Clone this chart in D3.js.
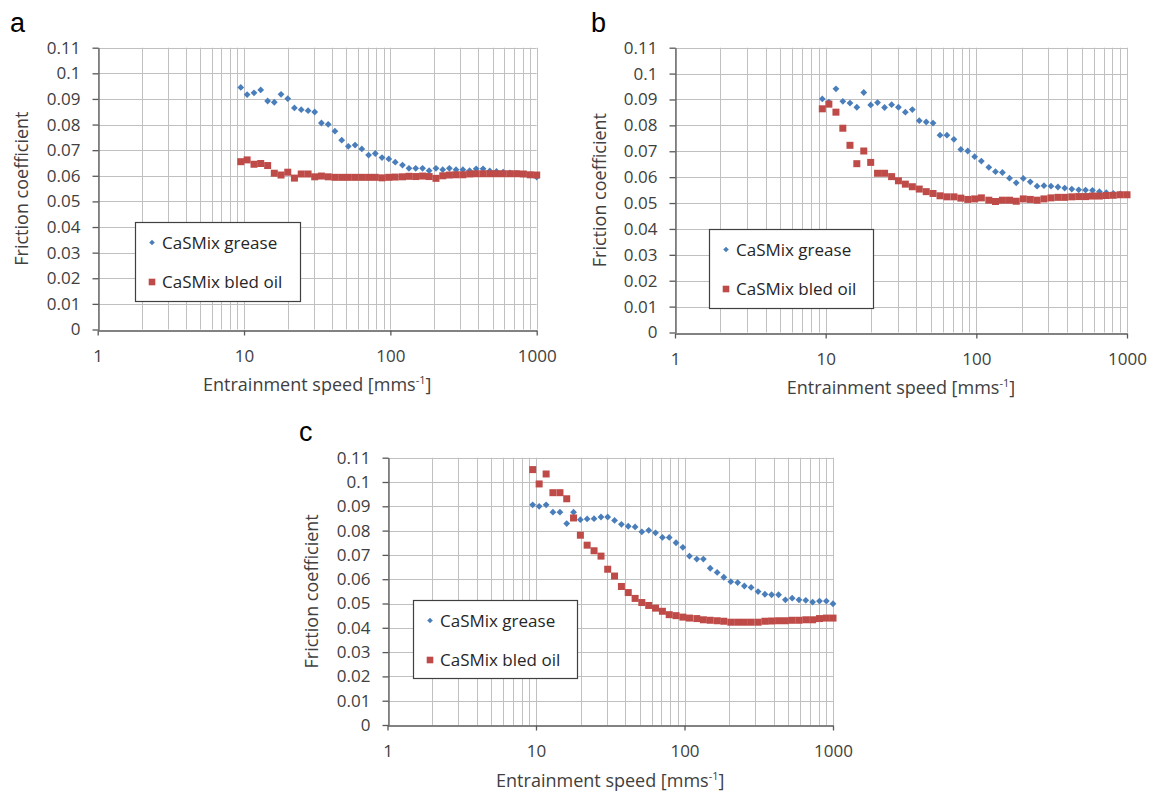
<!DOCTYPE html>
<html><head><meta charset="utf-8">
<script src="https://cdn.jsdelivr.net/npm/d3@7"></script>
<style>body{margin:0;background:#fff} svg{display:block}</style>
</head><body>
<svg id="chart" width="1153" height="795"></svg>
<script>
// ---------- data ----------
const speeds = [9.5, 10.5, 11.7, 13.0, 14.5, 16.1, 17.9, 19.9, 22.1, 24.6, 27.4, 30.4, 33.8, 37.6, 41.8,
  46.5, 51.6, 57.4, 63.8, 71.0, 78.9, 87.7, 97.5, 108, 121, 134, 149, 166, 184, 205, 228, 253, 281,
  313, 348, 386, 430, 478, 531, 590, 656, 729, 811, 902, 1000];

const greaseA = [0.0945,0.0917,0.0924,0.0935,0.0892,0.0887,0.0918,0.0901,0.0865,0.0858,0.0854,0.0849,0.0806,0.0801,0.0774,
  0.0739,0.0715,0.0720,0.0705,0.0681,0.0687,0.0671,0.0666,0.0653,0.0642,0.0629,0.0629,0.0629,0.0620,0.0629,0.0624,0.0629,
  0.0624,0.0624,0.0620,0.0627,0.0627,0.0619,0.0617,0.0614,0.0611,0.0609,0.0606,0.0603,0.0595];
const oilA = [0.0655,0.0662,0.0645,0.0648,0.0640,0.0610,0.0603,0.0614,0.0591,0.0607,0.0607,0.0596,0.0599,0.0596,0.0594,
  0.0594,0.0594,0.0594,0.0594,0.0594,0.0594,0.0592,0.0594,0.0595,0.0596,0.0598,0.0597,0.0599,0.0597,0.0590,0.0600,0.0603,
  0.0604,0.0604,0.0607,0.0608,0.0608,0.0608,0.0608,0.0608,0.0608,0.0608,0.0607,0.0604,0.0603];

const greaseB = [0.0902,0.0890,0.0941,0.0893,0.0886,0.0870,0.0927,0.0879,0.0888,0.0869,0.0880,0.0870,0.0851,0.0861,0.0818,
  0.0813,0.0809,0.0762,0.0762,0.0746,0.0707,0.0701,0.0679,0.0662,0.0638,0.0621,0.0618,0.0596,0.0578,0.0595,0.0582,0.0565,
  0.0567,0.0565,0.0562,0.0558,0.0554,0.0551,0.0550,0.0549,0.0544,0.0540,0.0537,0.0535,0.0532];
const oilB = [0.0864,0.0882,0.0851,0.0789,0.0723,0.0652,0.0701,0.0657,0.0615,0.0615,0.0602,0.0586,0.0573,0.0563,0.0554,
  0.0544,0.0537,0.0528,0.0524,0.0524,0.0519,0.0514,0.0516,0.0520,0.0511,0.0506,0.0511,0.0511,0.0507,0.0516,0.0514,0.0511,
  0.0516,0.0520,0.0522,0.0522,0.0524,0.0525,0.0525,0.0527,0.0527,0.0529,0.0530,0.0532,0.0532];

const greaseC = [0.0906,0.0900,0.0906,0.0876,0.0876,0.0829,0.0876,0.0845,0.0848,0.0849,0.0856,0.0856,0.0842,0.0826,0.0818,
  0.0815,0.0795,0.0801,0.0791,0.0772,0.0772,0.0750,0.0731,0.0695,0.0683,0.0683,0.0645,0.0628,0.0608,0.0590,0.0586,0.0572,
  0.0566,0.0549,0.0538,0.0536,0.0536,0.0515,0.0522,0.0515,0.0513,0.0506,0.0510,0.0510,0.0499];
const oilC = [0.1051,0.0992,0.1033,0.0956,0.0956,0.0931,0.0852,0.0781,0.0740,0.0717,0.0695,0.0641,0.0613,0.0570,0.0545,
  0.0521,0.0504,0.0492,0.0481,0.0468,0.0454,0.0450,0.0444,0.0440,0.0438,0.0433,0.0431,0.0429,0.0427,0.0423,0.0423,0.0423,
  0.0423,0.0423,0.0427,0.0428,0.0429,0.0429,0.0431,0.0431,0.0433,0.0433,0.0438,0.0440,0.0440];

const yTicks = [0, 0.01, 0.02, 0.03, 0.04, 0.05, 0.06, 0.07, 0.08, 0.09, 0.1, 0.11];
const yTickLabels = ["0","0.01","0.02","0.03","0.04","0.05","0.06","0.07","0.08","0.09","0.1","0.11"];
const xTicks = [1, 10, 100, 1000];
const xTickLabels = ["1","10","100","1000"];
const seriesNames = ["CaSMix grease", "CaSMix bled oil"];
const panelLetters = ["a", "b", "c"];
const yTitle = "Friction coefficient";
const xTitle = "Entrainment speed [mms";
const xTitleSup = "-1";

// ---------- layout ----------
const FONT = "'Open Sans', 'Liberation Sans', sans-serif";
const BLUE = "#4a7ebb", RED = "#be4b48", GRID = "#c0c0c0", AXIS = "#595959", TXT = "#404040";

const panels = [
  {letter: panelLetters[0], grease: greaseA, oil: oilA, left: 97.7, right: 536.7, bottom: 329.5, top: 47.7,
   lx: 10, ly: 32, leg: {x: 135, y: 222, w: 165, h: 79}},
  {letter: panelLetters[1], grease: greaseB, oil: oilB, left: 675, right: 1127, bottom: 332.5, top: 47.7,
   lx: 591, ly: 32, leg: {x: 709, y: 229, w: 164, h: 79}},
  {letter: panelLetters[2], grease: greaseC, oil: oilC, left: 387.5, right: 833, bottom: 725, top: 457.7,
   lx: 299, ly: 441, leg: {x: 413, y: 600, w: 164, h: 78}}
];

const svg = d3.select('#chart');
svg.append('rect').attr('width', 1153).attr('height', 795).attr('fill', '#fff');

const diamond = r => `M0,${-r}L${r},0L0,${r}L${-r},0Z`;

function drawPanel(p) {
  const x = d3.scaleLog().domain([1, 1000]).range([p.left, p.right]);
  const y = d3.scaleLinear().domain([0, 0.11]).range([p.bottom, p.top]);
  const g = svg.append('g');

  // gridlines
  g.append('g').selectAll('line.v').data(x.ticks()).join('line')
    .attr('x1', d => Math.round(x(d)) + 0.5).attr('x2', d => Math.round(x(d)) + 0.5)
    .attr('y1', p.top).attr('y2', p.bottom)
    .attr('stroke', GRID).attr('stroke-width', 1);
  g.append('g').selectAll('line.h').data(yTicks.slice(1)).join('line')
    .attr('x1', p.left).attr('x2', p.right)
    .attr('y1', d => Math.round(y(d)) + 0.5).attr('y2', d => Math.round(y(d)) + 0.5)
    .attr('stroke', GRID).attr('stroke-width', 1);

  // axes
  const yAxis = d3.axisLeft(y).tickValues(yTicks).tickSize(6).tickSizeOuter(0).tickPadding(12)
    .tickFormat((d, i) => yTickLabels[i]);
  const ya = g.append('g').attr('transform', `translate(${Math.round(p.left) + 0.5},0)`).call(yAxis);
  const xAxis = d3.axisBottom(x).tickValues(xTicks).tickSize(5).tickSizeOuter(0).tickPadding(14.5)
    .tickFormat((d, i) => xTickLabels[i]);
  const xa = g.append('g').attr('transform', `translate(0,${Math.round(p.bottom) + 0.5})`).call(xAxis);
  [ya, xa].forEach(a => {
    a.select('.domain').attr('stroke', AXIS).attr('stroke-width', 1.3);
    a.selectAll('.tick line').attr('stroke', AXIS).attr('stroke-width', 1.3);
    a.selectAll('.tick text').attr('fill', TXT).style('font-family', FONT).style('font-size', '17px');
  });

  // axis titles
  g.append('text')
    .attr('transform', `translate(${p.left - 69.5},${(p.top + p.bottom) / 2}) rotate(-90)`)
    .attr('text-anchor', 'middle').attr('fill', TXT)
    .style('font-family', FONT).style('font-size', '18px').text(yTitle);
  const xt = g.append('text')
    .attr('x', (p.left + p.right) / 2).attr('y', p.bottom + 61.5)
    .attr('text-anchor', 'middle').attr('fill', TXT)
    .style('font-family', FONT).style('font-size', '18px');
  xt.append('tspan').text(xTitle);
  xt.append('tspan').attr('dy', -7).style('font-size', '11px').text(xTitleSup);
  xt.append('tspan').attr('dy', 7).text(']');

  // series: grease (diamonds), then bled oil (squares) on top
  g.append('g').selectAll('path').data(p.grease).join('path')
    .attr('transform', (d, i) => `translate(${x(speeds[i])},${y(d)})`)
    .attr('d', diamond(3.4)).attr('fill', BLUE);
  g.append('g').selectAll('rect').data(p.oil).join('rect')
    .attr('x', (d, i) => x(speeds[i]) - 3.5).attr('y', d => y(d) - 3.5)
    .attr('width', 7).attr('height', 7).attr('fill', RED);

  // legend
  const L = p.leg;
  const lg = g.append('g').attr('transform', `translate(${L.x},${L.y})`);
  lg.append('rect').attr('x', 0.5).attr('y', 0.5).attr('width', L.w).attr('height', L.h)
    .attr('fill', '#fff').attr('stroke', '#404040').attr('stroke-width', 1.2);
  const rows = [20.5, 60];
  lg.append('path').attr('transform', `translate(17,${rows[0]})`).attr('d', diamond(2.8)).attr('fill', BLUE);
  lg.append('rect').attr('x', 17 - 3.3).attr('y', rows[1] - 3.3).attr('width', 6.6).attr('height', 6.6).attr('fill', RED);
  seriesNames.forEach((s, i) => {
    lg.append('text').attr('x', 27).attr('y', rows[i] + 6).attr('fill', '#262626')
      .style('font-family', FONT).style('font-size', '17px').text(s);
  });

  // panel letter
  svg.append('text').attr('x', p.lx).attr('y', p.ly).attr('fill', '#000')
    .style('font-family', "'Liberation Sans', Arial, sans-serif").style('font-size', '27px').text(p.letter);
}

panels.forEach(drawPanel);
</script>
</body></html>
